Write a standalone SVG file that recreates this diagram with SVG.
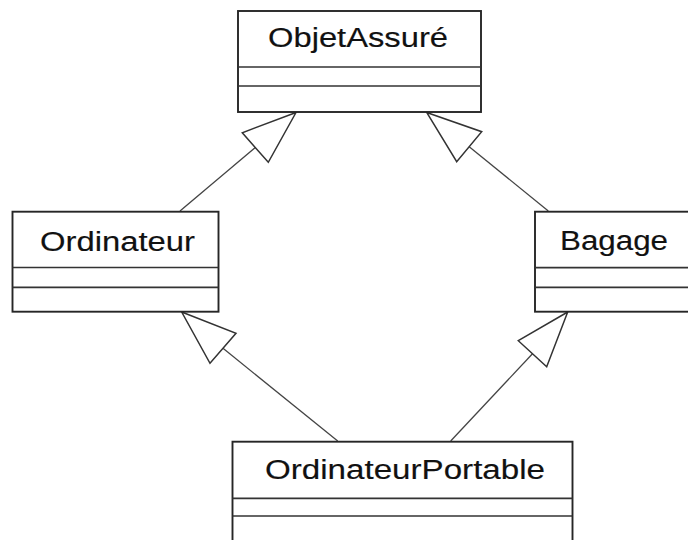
<svg xmlns="http://www.w3.org/2000/svg" width="688" height="540" viewBox="0 0 688 540">
  <style>
    .box { fill: #ffffff; stroke: #262626; stroke-width: 1.9; }
    .sep { stroke: #333333; stroke-width: 1.7; }
    .name { font-family: "Liberation Sans", Arial, sans-serif; font-size: 27px; fill: #111111; stroke: #111111; stroke-width: 0.15; text-anchor: start; }
    .edge { stroke: #444444; stroke-width: 1.3; fill: none; }
    .head { fill: #ffffff; stroke: #333333; stroke-width: 1.5; stroke-linejoin: miter; }
  </style>
  <rect width="688" height="540" fill="#ffffff"/>

  <!-- generalisation connectors: line + hollow triangle at the parent -->
  <g id="connectors">
    <g id="ordinateur-to-objetassure">
      <line class="edge" x1="180" y1="211" x2="255.3" y2="147.5"/>
      <polygon class="head" points="296,112.5 242.3,132.7 268.3,162.3"/>
    </g>
    <g id="bagage-to-objetassure">
      <line class="edge" x1="548.3" y1="211" x2="469.2" y2="146.7"/>
      <polygon class="head" points="426.7,112.5 481.7,131.7 456.7,161.7"/>
    </g>
    <g id="portable-to-ordinateur">
      <line class="edge" x1="337.7" y1="441" x2="223" y2="348.3"/>
      <polygon class="head" points="181.7,312 236,333.3 210,363.3"/>
    </g>
    <g id="portable-to-bagage">
      <line class="edge" x1="450.7" y1="441" x2="532.5" y2="353.7"/>
      <polygon class="head" points="567.7,312 518.3,340.7 546.7,366.7"/>
    </g>
  </g>

  <g id="ObjetAssure">
    <rect class="box" x="238" y="11" width="243" height="101"/>
    <line class="sep" x1="238" y1="67" x2="481" y2="67"/>
    <line class="sep" x1="238" y1="86" x2="481" y2="86"/>
    <text class="name" x="268" y="46.8" textLength="180" lengthAdjust="spacingAndGlyphs">ObjetAssuré</text>
  </g>

  <g id="Ordinateur">
    <rect class="box" x="12.5" y="211.7" width="206" height="100"/>
    <line class="sep" x1="12.5" y1="267.5" x2="218.5" y2="267.5"/>
    <line class="sep" x1="12.5" y1="287.3" x2="218.5" y2="287.3"/>
    <text class="name" x="40" y="250.5" textLength="155" lengthAdjust="spacingAndGlyphs">Ordinateur</text>
  </g>

  <g id="Bagage">
    <rect class="box" x="535" y="211.7" width="170" height="100"/>
    <line class="sep" x1="535" y1="267.7" x2="705" y2="267.7"/>
    <line class="sep" x1="535" y1="287.3" x2="705" y2="287.3"/>
    <text class="name" x="560" y="249.7" textLength="108" lengthAdjust="spacingAndGlyphs">Bagage</text>
  </g>

  <g id="OrdinateurPortable">
    <rect class="box" x="232.5" y="441.7" width="340" height="110"/>
    <line class="sep" x1="232.5" y1="498.3" x2="572.5" y2="498.3"/>
    <line class="sep" x1="232.5" y1="516" x2="572.5" y2="516"/>
    <text class="name" x="265" y="479.4" textLength="280" lengthAdjust="spacingAndGlyphs">OrdinateurPortable</text>
  </g>
</svg>
